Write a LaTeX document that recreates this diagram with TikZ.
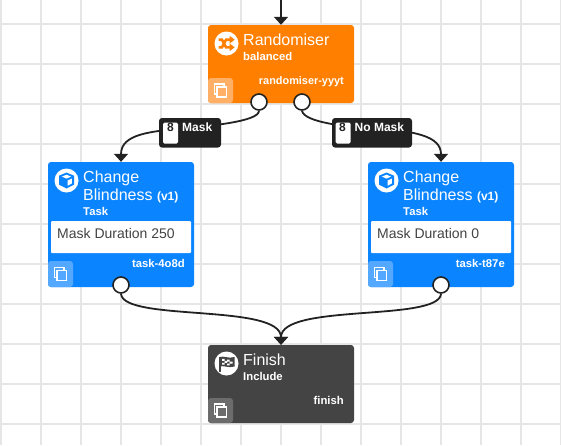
\documentclass[tikz,border=0pt]{standalone}
\usepackage{fontspec}
\setmainfont{Liberation Sans}
\usetikzlibrary{arrows.meta}
\definecolor{gridc}{HTML}{E6E6E6}
\definecolor{orangec}{HTML}{FF8000}
\definecolor{bluec}{HTML}{0A84FF}
\definecolor{darkc}{HTML}{444444}
\definecolor{inkc}{HTML}{222222}
\definecolor{orangel}{HTML}{FFB066}
\definecolor{bluel}{HTML}{55A8FF}
\definecolor{darkl}{HTML}{6C6C6C}
\tikzset{
  card/.style={rounded corners=3pt,inner sep=0pt,minimum width=146pt,fill=#1},
  titletxt/.style={anchor=base west,inner sep=0pt,text=white,font=\fontsize{16}{16}\selectfont},
  subtxt/.style={anchor=base west,inner sep=0pt,text=white,font=\fontsize{11.3}{12}\selectfont\bfseries},
  idtxt/.style={anchor=base east,inner sep=0pt,text=white,font=\fontsize{11.3}{12}\selectfont\bfseries},
  copybtn/.style={rounded corners=3pt,inner sep=0pt,minimum width=25pt,minimum height=25pt,fill=#1},
  iconcirc/.style={circle,fill=white,inner sep=0pt,minimum size=24pt},
  port/.style={circle,fill=white,draw=inkc,line width=1.6pt,inner sep=0pt,minimum size=16pt},
  linkc/.style={draw=inkc,line width=1.8pt},
  arrowc/.style={linkc,-{Triangle[width=14pt,length=8pt]}},
  edgelabel/.style={rounded corners=3pt,fill=inkc,inner sep=0pt,minimum height=29.5pt},
  countbox/.style={rounded corners=1.5pt,fill=white,inner sep=0pt,minimum width=15pt,minimum height=21pt},
  edgetxt/.style={anchor=base west,inner sep=0pt,text=white,font=\fontsize{12}{12}\selectfont\bfseries},
  counttxt/.style={anchor=base,inner sep=0pt,text=inkc,font=\fontsize{12}{12}\selectfont\bfseries},
  paramtxt/.style={anchor=base west,inner sep=0pt,text=inkc!85!white,font=\fontsize{14}{14}\selectfont},
  parambox/.style={rounded corners=1pt,fill=white,inner sep=0pt,minimum width=140pt,minimum height=32pt},
}
\newcommand{\copyicon}[2]{%
  \begin{scope}[shift={(#1)},white,line width=1.1pt]
    \draw (-6,-6.5) rectangle (3.5,3.5);
    \fill[#2] (-3.5,-3.5) rectangle (6,6.5);
    \draw (-3.5,-3.5) rectangle (6,6.5);
  \end{scope}}
\newcommand{\cubeicon}[1]{%
  \begin{scope}[shift={(#1)}]
    \fill[bluec] (0,-8) -- (7.5,-4.8) -- (7.5,4.2) -- (0,8) -- (-7.5,4.2) -- (-7.5,-4.8) -- cycle;
    \fill[white] (0,-5.8) -- (4.6,-3.9) -- (0,-1.9) -- (-4.6,-3.9) -- cycle;
    \fill[white] (1.2,0) -- (5.4,-2) -- (5.4,2.9) -- (1.2,5.2) -- cycle;
  \end{scope}}
\begin{document}
\begin{tikzpicture}[x=1pt,y=-1pt]
\useasboundingbox (0,0) rectangle (561,445);
\fill[white] (0,0) rectangle (561,445);
\foreach \gx in {1,41,...,561} \draw[gridc,line width=1.5pt] (\gx,0) -- (\gx,445);
\foreach \gy in {24,64,...,445} \draw[gridc,line width=1.5pt] (0,\gy) -- (561,\gy);

% cards
\node[card=orangec,minimum height=78pt] (rand) at (281,64) {};
\node[card=bluec,minimum height=125pt] (taskA) at (121,224.5) {};
\node[card=bluec,minimum height=125pt] (taskB) at (441,224.5) {};
\node[card=darkc,minimum height=78pt] (finish) at (281,384) {};

% icon discs
\node[iconcirc] (randicon) at (226.5,43.5) {};
\node[iconcirc] (taskAicon) at (66.5,180.5) {};
\node[iconcirc] (taskBicon) at (386.5,180.5) {};
\node[iconcirc] (finishicon) at (226.5,363.5) {};

% shuffle glyph
\begin{scope}[shift={(226.5,43.5)},orangec]
  \draw[line width=2.6pt] (-8,-3.8) -- (-4.5,-3.8) -- (-0.5,3.8) -- (4,3.8);
  \draw[line width=2.6pt] (-8,3.8) -- (-4.5,3.8) -- (-0.5,-3.8) -- (4,-3.8);
  \fill (3.2,-7.6) -- (8.2,-3.8) -- (3.2,0) -- cycle;
  \fill (3.2,0) -- (8.2,3.8) -- (3.2,7.6) -- cycle;
\end{scope}
\cubeicon{66.5,180.5}
\cubeicon{386.5,180.5}
% flag glyph
\begin{scope}[shift={(226.5,363.5)}]
  \fill[darkc] (-7.5,-7) rectangle (-6,8.5);
  \fill[darkc] (-6.5,-6.5) .. controls (-3,-8) and (2,-4.5) .. (8,-6.5) -- (8,3) .. controls (2,5) and (-3,1.5) .. (-6.5,3) -- cycle;
  \fill[white] (-4.5,-4.6) rectangle (-2,-2.6) (0.5,-3.8) rectangle (3,-1.8) (-2,-2.6) rectangle (0.5,-0.6) (3,-1.8) rectangle (6,0.2) (-4.5,-0.6) rectangle (-2,1.2) (0.5,-0) rectangle (3,1.8);
\end{scope}

% copy buttons
\node[copybtn=orangel] (randcopy) at (220.5,90.5) {};
\node[copybtn=bluel,minimum height=26pt] (taskAcopy) at (60.5,274) {};
\node[copybtn=bluel,minimum height=26pt] (taskBcopy) at (380.5,274) {};
\node[copybtn=darkl] (finishcopy) at (220.5,410.5) {};
\copyicon{220.5,90.5}{orangel}
\copyicon{60.5,274}{bluel}
\copyicon{380.5,274}{bluel}
\copyicon{220.5,410.5}{darkl}

% card texts
\node[titletxt] (randT) at (243,45) {Randomiser};
\node[subtxt] (randS) at (243,60) {balanced};
\node[idtxt,font=\fontsize{10.9}{12}\selectfont\bfseries] (randI) at (344,84) {randomiser-yyyt};

\node[titletxt] (aT1) at (83,182) {Change};
\node[titletxt] (aT2) at (83,200) {Blindness \fontsize{12}{12}\selectfont\bfseries (v1)};
\node[subtxt] (aS) at (83,215) {Task};
\node[parambox] (aP) at (121,237) {};
\node[paramtxt] (aPT) at (57,238) {Mask Duration 250};
\node[idtxt] (aI) at (185,267) {task-4o8d};

\node[titletxt] (bT1) at (403,182) {Change};
\node[titletxt] (bT2) at (403,200) {Blindness \fontsize{12}{12}\selectfont\bfseries (v1)};
\node[subtxt] (bS) at (403,215) {Task};
\node[parambox] (bP) at (441,237) {};
\node[paramtxt] (bPT) at (377,238) {Mask Duration 0};
\node[idtxt] (bI) at (505,267) {task-t87e};

\node[titletxt] (fT) at (243,365) {Finish};
\node[subtxt] (fS) at (243,380) {Include};
\node[idtxt] (fI) at (344,404) {finish};

% ports
\coordinate (topstart) at (281,0);
\node[port] (p1) at (259,102) {};
\node[port] (p2) at (302,102) {};
\node[port] (p3) at (121,285) {};
\node[port] (p4) at (441,285) {};

% connectors
\draw[arrowc] (topstart) -- (rand.north);
\coordinate (maskin) at (190,128);
\coordinate (nomaskin) at (372,128);
\draw[arrowc] (p1.south) .. controls (259,122) and (205,126) .. (maskin) .. controls (150,131) and (121,134) .. (taskA.north);
\draw[arrowc] (p2.south) .. controls (304,122) and (345,127) .. (nomaskin) .. controls (415,131) and (441,136) .. (taskB.north);
\draw[arrowc] (p3.south) .. controls (123,322) and (281,303) .. (finish.north);
\draw[arrowc] (p4.south) .. controls (439,322) and (281,303) .. (finish.north);

% edge labels
\node[edgelabel,minimum width=62pt] (lA) at (190,132.75) {};
\node[countbox] (cA) at (170.5,133) {};
\node[counttxt] (cAT) at (170.5,131) {8};
\node[edgetxt] (lAT) at (182,131) {Mask};
\node[edgelabel,minimum width=80pt] (lB) at (372,132.75) {};
\node[countbox] (cB) at (343,133) {};
\node[counttxt] (cBT) at (342.5,131) {8};
\node[edgetxt] (lBT) at (354.5,131) {No Mask};
\end{tikzpicture}
\end{document}
